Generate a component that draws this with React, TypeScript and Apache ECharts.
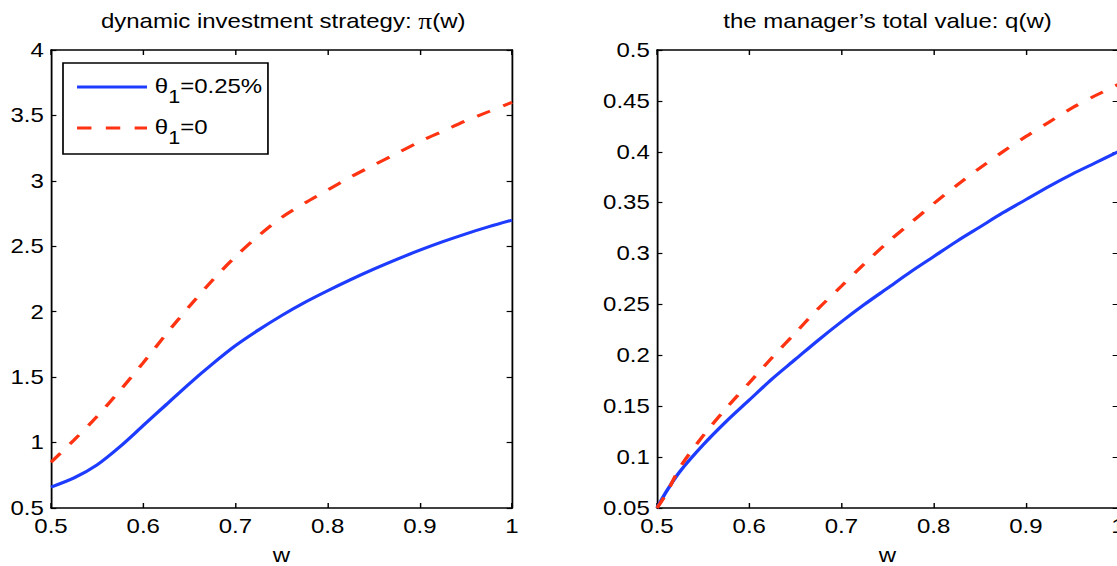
import React, { useEffect, useRef } from "react";
import * as echarts from "echarts";

// ---- data ----
const wLeft = [0.5, 0.525, 0.55, 0.575, 0.6, 0.625, 0.65, 0.675, 0.7, 0.725, 0.75, 0.775, 0.8, 0.825, 0.85, 0.875, 0.9, 0.925, 0.95, 0.975, 1.0];
const piWithFee = [0.66, 0.73, 0.83, 0.97, 1.13, 1.29, 1.45, 1.6, 1.74, 1.86, 1.97, 2.07, 2.16, 2.245, 2.325, 2.4, 2.47, 2.535, 2.595, 2.65, 2.7];
const piNoFee = [0.85, 1.02, 1.2, 1.4, 1.61, 1.83, 2.04, 2.24, 2.42, 2.58, 2.72, 2.83, 2.93, 3.03, 3.12, 3.21, 3.3, 3.38, 3.46, 3.53, 3.6];

const wRight = [0.5, 0.51, 0.525, 0.55, 0.575, 0.6, 0.625, 0.65, 0.675, 0.7, 0.725, 0.75, 0.775, 0.8, 0.825, 0.85, 0.875, 0.9, 0.925, 0.95, 0.975, 1.0];
const qWithFee = [0.05, 0.066, 0.086, 0.112, 0.135, 0.156, 0.177, 0.196, 0.215, 0.233, 0.25, 0.266, 0.282, 0.297, 0.312, 0.326, 0.34, 0.353, 0.366, 0.378, 0.389, 0.4];
const qNoFee = [0.05, 0.064, 0.09, 0.121, 0.148, 0.173, 0.198, 0.222, 0.246, 0.268, 0.29, 0.311, 0.33, 0.349, 0.367, 0.384, 0.4, 0.415, 0.429, 0.443, 0.455, 0.466];

const titles = ["dynamic investment strategy:", "the manager\u2019s total value: q(w)"];
const legendLabels = ["=0.25%", "=0"];
const xName = "w";

const BLUE = "#1e3cff";
const RED = "#ff3312";
const FONT = '"Liberation Sans", Arial, Helvetica, sans-serif';
const SX = 1.2;
const W = 930.8;
const H = 566;

export default function App() {
  const ref = useRef<HTMLDivElement>(null);
  useEffect(() => {
    document.body.style.margin = "0";
    document.body.style.overflow = "hidden";
    document.documentElement.style.overflow = "hidden";
    const chart = echarts.init(ref.current!, null, { renderer: "svg", width: W, height: H });
    const grids = [
      { left: 42.5, top: 50, width: 384.2, height: 458, outerBoundsMode: "none", containLabel: false },
      { left: 547.5, top: 50, width: 384.2, height: 458, outerBoundsMode: "none", containLabel: false },
    ];
    const axisLine = { show: true, onZero: false, lineStyle: { color: "#000", width: 1.5 } };
    const labelStyle = { color: "#000", fontSize: 20, fontFamily: FONT };
    const xAxes: any[] = [];
    const yAxes: any[] = [];
    const yRanges = [
      { min: 0.5, max: 4, interval: 0.5 },
      { min: 0.05, max: 0.5, interval: 0.05 },
    ];
    for (let g = 0; g < 2; g++) {
      xAxes.push({
        type: "value", gridIndex: g, min: 0.5, max: 1, interval: 0.1, position: "bottom",
        axisLine, axisTick: { show: true, inside: true, length: 5, lineStyle: { color: "#000", width: 1.2 } },
        axisLabel: { ...labelStyle, margin: 8, hideOverlap: false }, splitLine: { show: false },
        name: xName, nameLocation: "middle", nameGap: 37, nameTextStyle: labelStyle,
      });
      xAxes.push({
        type: "value", gridIndex: g, min: 0.5, max: 1, interval: 0.1, position: "top",
        axisLine, axisTick: { show: true, inside: true, length: 5, lineStyle: { color: "#000", width: 1.2 } },
        axisLabel: { show: false }, splitLine: { show: false },
      });
      yAxes.push({
        type: "value", gridIndex: g, ...yRanges[g], position: "left",
        axisLine, axisTick: { show: true, inside: true, length: 4.5, lineStyle: { color: "#000", width: 1.2 } },
        axisLabel: { ...labelStyle, margin: 6 }, splitLine: { show: false },
      });
      yAxes.push({
        type: "value", gridIndex: g, ...yRanges[g], position: "right",
        axisLine, axisTick: { show: true, inside: true, length: 4.5, lineStyle: { color: "#000", width: 1.2 } },
        axisLabel: { show: false }, splitLine: { show: false },
      });
    }
    const line = (xi: number, xs: number[], ys: number[], color: string, dashed: boolean) => ({
      type: "line", xAxisIndex: xi, yAxisIndex: xi,
      data: xs.map((x, i) => [x, ys[i]]),
      showSymbol: false, smooth: 0.3, z: dashed ? 3 : 2,
      lineStyle: { color, width: 3, type: dashed ? [12, 12] : "solid" },
    });
    const legendRows = [
      { y: 87, color: BLUE, dashed: false, label: legendLabels[0] },
      { y: 128, color: RED, dashed: true, label: legendLabels[1] },
    ];
    const graphic: any[] = [
      {
        type: "text", x: 236, y: 21,
        style: {
          text: titles[0] + " {p|\u03c0}(w)", x: 0, y: 0, align: "center", verticalAlign: "middle",
          fill: "#000", fontSize: 20, fontFamily: FONT,
          rich: { p: { fontSize: 23, fontFamily: '"Liberation Serif", "DejaVu Serif", serif', fill: "#000" } },
        },
      },
      {
        type: "text", x: 739.6, y: 21,
        style: { text: titles[1], align: "center", verticalAlign: "middle", fill: "#000", fontSize: 20, fontFamily: FONT },
      },
      {
        type: "rect", shape: { x: 52.5, y: 63, width: 170.8, height: 91 },
        style: { fill: "#fff", stroke: "#000", lineWidth: 1.4 }, z: 10,
      },
    ];
    legendRows.forEach((r) => {
      graphic.push({
        type: "line", shape: { x1: 64.2, y1: r.y, x2: 122.5, y2: r.y },
        style: { stroke: r.color, lineWidth: 3, lineDash: r.dashed ? [12, 12] : null }, z: 11,
      });
      graphic.push({
        type: "text", x: 129, y: r.y - 1, z: 11,
        style: {
          text: "{t|\u03b8}{s|1}{n|" + r.label + "}",
          align: "left", verticalAlign: "middle", fill: "#000", fontSize: 20, fontFamily: FONT,
          rich: {
            t: { fontSize: 20, fontFamily: FONT, fill: "#000" },
            s: { fontSize: 18, fontFamily: FONT, fill: "#000", padding: [21, 0, 0, 0] },
            n: { fontSize: 20, fontFamily: FONT, fill: "#000" },
          },
        },
      });
    });
    chart.setOption({
      animation: false,
      backgroundColor: "#fff",
      grid: grids,
      xAxis: xAxes,
      yAxis: yAxes,
      series: [
        line(0, wLeft, piWithFee, BLUE, false),
        line(0, wLeft, piNoFee, RED, true),
        line(2, wRight, qWithFee, BLUE, false),
        line(2, wRight, qNoFee, RED, true),
      ],
      graphic,
    });
    return () => chart.dispose();
  }, []);
  return (
    <div
      ref={ref}
      style={{
        position: "absolute", left: 0, top: 0, width: W, height: H,
        transform: `scaleX(${SX})`, transformOrigin: "0 0", background: "#fff",
      }}
    />
  );
}
